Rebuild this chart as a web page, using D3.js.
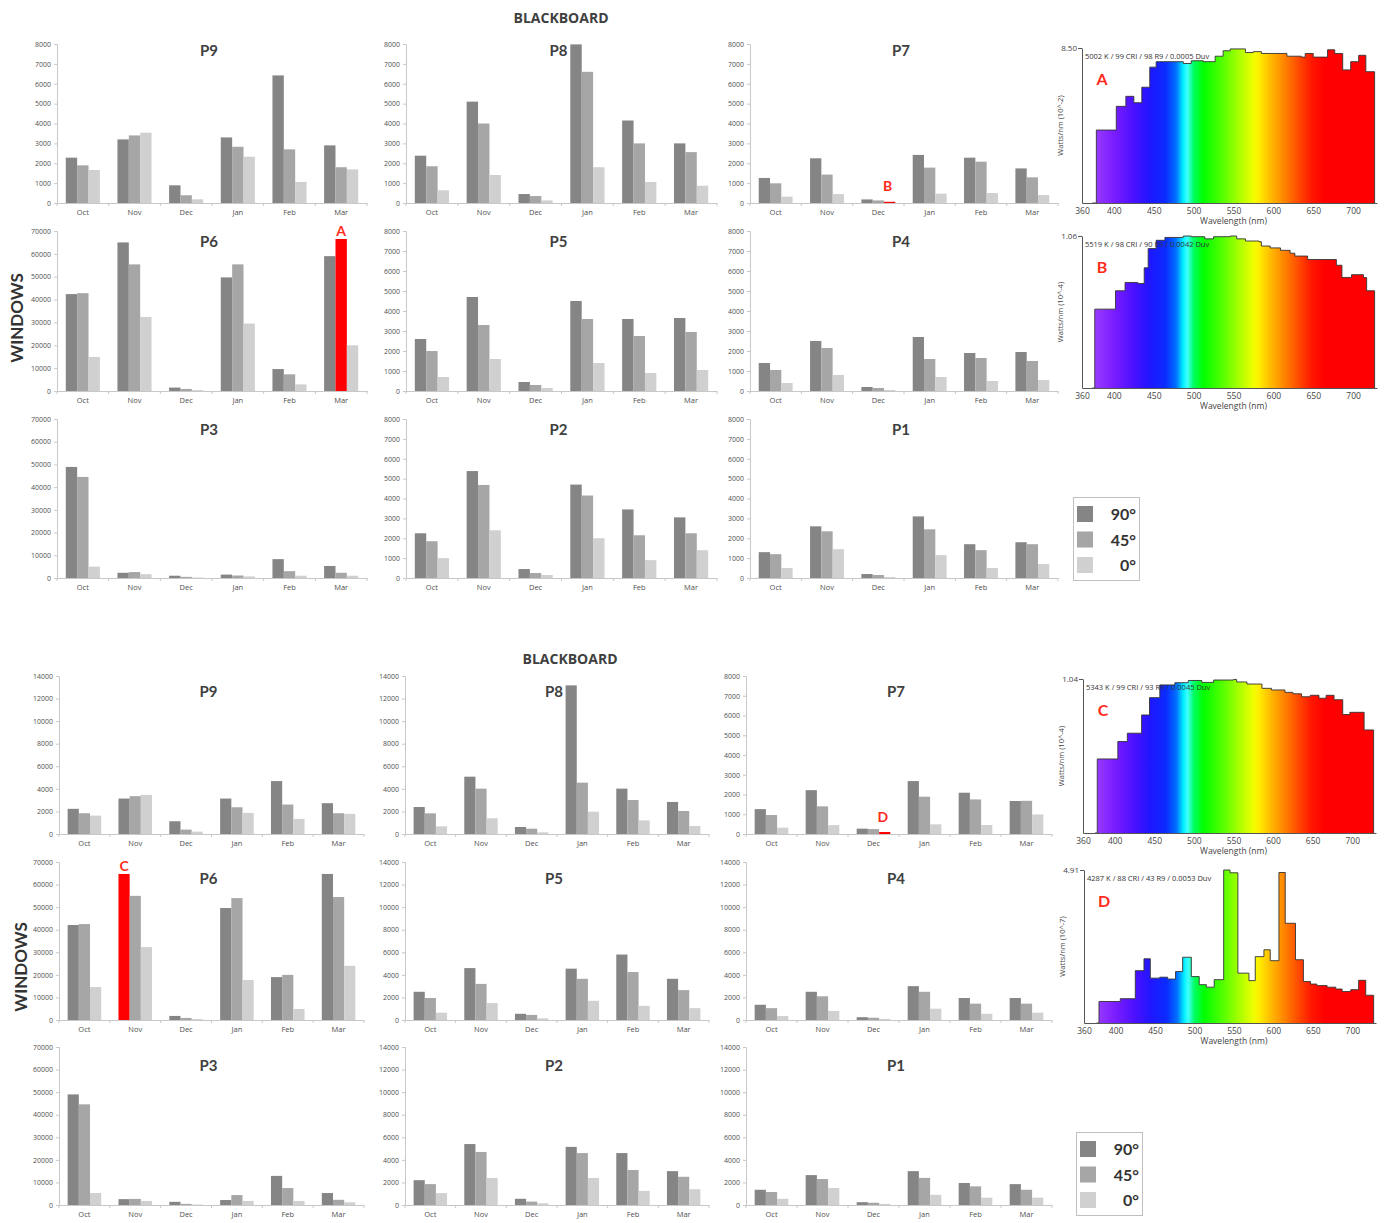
<!DOCTYPE html>
<html>
<head>
<meta charset="utf-8">
<script src="https://cdn.jsdelivr.net/npm/d3@7"></script>
<style>
  body { margin: 0; background: #fff; }
  svg text { font-family: "Open Sans", "Liberation Sans", sans-serif; }
</style>
</head>
<body>
<div id="root"></div>
<script>
const months = ["Oct", "Nov", "Dec", "Jan", "Feb", "Mar"]
const angles = ["90°", "45°", "0°"]

// values per month: [90°, 45°, 0°]
const topP9 = [[2280,1895,1660],[3200,3400,3540],[890,390,185],[3300,2830,2330],[6420,2700,1060],[2900,1800,1690]]
const topP8 = [[2380,1850,640],[5100,4000,1410],[450,350,130],[7980,6600,1800],[4150,3000,1060],[3000,2560,870]]
const topP7 = [[1260,990,320],[2250,1430,450],[180,130,60],[2420,1780,470],[2280,2080,500],[1740,1290,400]]
const topP6 = [[42400,42800,14900],[65000,55400,32400],[1500,900,400],[49700,55400,29500],[9600,7300,2900],[59000,66500,20000]]
const topP5 = [[2600,2000,700],[4700,3300,1600],[450,300,150],[4500,3600,1400],[3600,2750,900],[3650,2950,1050]]
const topP4 = [[1400,1050,400],[2500,2150,800],[200,150,50],[2700,1600,700],[1900,1650,500],[1950,1500,550]]
const topP3 = [[48900,44500,5000],[2300,2600,1700],[1000,500,200],[1500,1100,700],[8300,3000,1000],[5300,2300,1000]]
const topP2 = [[2250,1850,1000],[5380,4680,2400],[450,250,150],[4700,4150,2000],[3450,2150,900],[3050,2250,1400]]
const topP1 = [[1300,1200,500],[2600,2350,1450],[200,150,50],[3100,2450,1150],[1700,1400,500],[1800,1700,700]]

const botP9 = [[2230,1840,1630],[3140,3350,3470],[1130,390,210],[3140,2370,1870],[4690,2610,1340],[2730,1840,1780]]
const botP8 = [[2390,1830,680],[5080,4020,1390],[620,470,150],[13170,4550,1980],[4020,3010,1210],[2840,2040,710]]
const botP7 = [[1260,960,320],[2220,1400,450],[270,250,100],[2680,1890,490],[2090,1750,455],[1670,1680,990]]
const botP6 = [[42100,42500,14600],[64700,55000,32300],[1800,900,400],[49600,54000,17700],[19000,20000,4900],[64700,54500,24000]]
const botP5 = [[2500,1950,650],[4600,3200,1500],[550,450,150],[4550,3650,1700],[5800,4250,1250],[3650,2650,1050]]
const botP4 = [[1350,1050,350],[2500,2100,800],[250,200,100],[3000,2500,1000],[1950,1450,550],[1950,1450,650]]
const botP3 = [[49000,44600,5300],[2600,2700,1800],[1400,500,200],[2200,4400,1800],[12900,7500,1800],[5300,2300,1200]]
const botP2 = [[2200,1850,1050],[5400,4700,2400],[550,300,150],[5150,4600,2400],[4600,3100,1250],[3000,2500,1400]]
const botP1 = [[1350,1150,550],[2650,2300,1500],[250,200,100],[3000,2400,900],[1950,1650,650],[1850,1350,650]]

// highlighted bars (red) with their letter
const topMarks = [{panel: "P6", month: "Mar", angle: 1, letter: "A"}, {panel: "P7", month: "Dec", angle: 2, letter: "B"}]
const botMarks = [{panel: "P6", month: "Nov", angle: 0, letter: "C"}, {panel: "P7", month: "Dec", angle: 2, letter: "D"}]

// spectra: wavelength (nm) where each step starts, and level
const specAWl = [373,378,403,415,425,435,445,453,487,497,512,527,537,546,565,575,585,617,635,640,650,668,677,687,697,707,716,727]
const specAVal = [0,4.0,5.3,5.85,5.5,6.35,7.45,7.75,7.65,7.8,7.75,8.05,8.35,8.45,8.25,8.3,8.2,8.05,8.0,8.2,8.0,8.4,8.2,7.3,7.75,8.1,7.2,0]
const specBWl = [373,376,402,414,430,438,443,453,464,487,497,514,525,546,554,565,582,585,596,609,621,627,643,679,686,698,713,717,727]
const specBVal = [0,0.55,0.678,0.736,0.729,0.838,0.972,1.03,1.05,1.06,1.055,1.04,1.055,1.06,1.04,1.025,1.02,0.99,0.977,0.96,0.94,0.92,0.896,0.856,0.771,0.79,0.77,0.678,0]
const specCWl = [375,378,404,416,434,444,457,476,493,510,525,550,554,567,586,598,615,625,636,647,658,667,677,688,697,715,727]
const specCVal = [0,0.50,0.618,0.674,0.797,0.914,1.0,1.015,1.03,1.017,1.033,1.037,1.02,1.006,0.977,0.966,0.95,0.94,0.92,0.93,0.91,0.93,0.90,0.80,0.815,0.696,0]
const specDWl = [376,379,406,425,436,444,456,466,476,485,496,506,515,525,537,545,555,569,577,588,596,607,615,628,638,647,655,668,679,687,698,708,717,727]
const specDVal = [0,0.69,0.78,1.68,2.06,1.44,1.47,1.41,1.65,2.11,1.49,1.23,1.15,1.39,4.91,4.82,1.60,1.36,2.13,2.35,2.0,4.83,3.2,2.03,1.33,1.25,1.2,1.15,1.09,1.01,1.07,1.37,0.89,0]
const specInfo = ["5002 K / 99 CRI / 98 R9 / 0.0005 Duv", "5519 K / 98 CRI / 90 R9 / 0.0042 Duv",
                  "5343 K / 99 CRI / 93 R9 / 0.0045 Duv", "4287 K / 88 CRI / 43 R9 / 0.0053 Duv"]
const specMax = [8.50, 1.06, 1.04, 4.91]
const specExp = ["(10^-2)", "(10^-4)", "(10^-4)", "(10^-7)"]
const wlTicks = [360, 400, 450, 500, 550, 600, 650, 700]

const angleColors = ["#858585", "#a6a6a6", "#d0d0d0"]
const red = "#ff0000"
const letterRed = "#ff2b1c"
const spectrumStops = [
  [375, "#9b3dff"], [400, "#7a1dff"], [425, "#4a10ff"], [445, "#1f16ff"], [465, "#0a2cff"],
  [478, "#0070ff"], [487, "#00f0ff"], [492, "#40ffff"], [500, "#00ff60"], [512, "#00ff00"],
  [535, "#50ff00"], [555, "#a0ff00"], [575, "#f0ff00"], [582, "#ffee00"], [595, "#ffc000"],
  [610, "#ff9000"], [630, "#ff5000"], [648, "#ff1800"], [665, "#ff0000"], [730, "#ff0000"]
]

const svg = d3.select("#root")
  .append("svg")
    .attr("width", 1384)
    .attr("height", 1223)

// Layout of the two blocks
const blocks = [
  {
    title: {x: 561, y: 23},
    cols: [[57, 367], [406, 717], [750, 1058]],
    rows: [[44, 203], [231, 391], [419, 578]],
    titleDy: [12, 16, 16],
    panels: [[["P9", topP9, 8000, 1000], ["P8", topP8, 8000, 1000], ["P7", topP7, 8000, 1000]],
             [["P6", topP6, 70000, 10000], ["P5", topP5, 8000, 1000], ["P4", topP4, 8000, 1000]],
             [["P3", topP3, 70000, 10000], ["P2", topP2, 8000, 1000], ["P1", topP1, 8000, 1000]]],
    marks: topMarks,
    windows: {x: 23, y: 318},
    spectra: [
      {wl: specAWl, val: specAVal, i: 0, letter: "A", x0: 1082, x1: 1377, yTop: 48, yBot: 203},
      {wl: specBWl, val: specBVal, i: 1, letter: "B", x0: 1082, x1: 1377, yTop: 236, yBot: 388},
    ],
    legend: {x: 1073, y: 497}
  },
  {
    title: {x: 570, y: 664},
    cols: [[59, 364], [405, 709], [746, 1052]],
    rows: [[676, 834], [862, 1020], [1047, 1205]],
    titleDy: [21, 22, 24],
    panels: [[["P9", botP9, 14000, 2000], ["P8", botP8, 14000, 2000], ["P7", botP7, 8000, 1000]],
             [["P6", botP6, 70000, 10000], ["P5", botP5, 14000, 2000], ["P4", botP4, 14000, 2000]],
             [["P3", botP3, 70000, 10000], ["P2", botP2, 14000, 2000], ["P1", botP1, 14000, 2000]]],
    marks: botMarks,
    windows: {x: 27, y: 967},
    spectra: [
      {wl: specCWl, val: specCVal, i: 2, letter: "C", x0: 1083, x1: 1376, yTop: 679, yBot: 833},
      {wl: specDWl, val: specDVal, i: 3, letter: "D", x0: 1084, x1: 1376, yTop: 870, yBot: 1023},
    ],
    legend: {x: 1076, y: 1132}
  }
]

blocks.forEach(block => {
  svg.append("text")
    .attr("x", block.title.x)
    .attr("y", block.title.y)
    .attr("text-anchor", "middle")
    .attr("font-size", 14)
    .attr("font-weight", "bold")
    .attr("fill", "#404040")
    .text("BLACKBOARD")

  block.panels.forEach((row, r) => {
    row.forEach((p, c) => {
      const [name, data, max, step] = p
      const cell = {x0: block.cols[c][0], x1: block.cols[c][1], yTop: block.rows[r][0], yBot: block.rows[r][1]}
      const mark = block.marks.find(m => m.panel === name)
      drawBars(cell, name, data, max, step, mark, block.titleDy[r])
    })
  })

  svg.append("text")
    .attr("transform", `translate(${block.windows.x},${block.windows.y}) rotate(-90)`)
    .attr("text-anchor", "middle")
    .attr("font-size", 17)
    .attr("font-weight", "bold")
    .attr("fill", "#333")
    .style("font-family", "Lato, 'Open Sans', sans-serif")
    .text("WINDOWS")

  block.spectra.forEach(s => drawSpectrum(s))
  drawLegend(block.legend)
})

function drawBars(cell, name, data, max, step, mark, titleDy) {
  const g = svg.append("g").classed("panel", true)

  const x = d3.scaleBand()
    .domain(months)
    .range([cell.x0, cell.x1])
    .paddingInner(0.34)
    .paddingOuter(0.17)

  const xi = d3.scaleBand()
    .domain([0, 1, 2])
    .range([0, x.bandwidth()])

  const y = d3.scaleLinear()
    .domain([0, max])
    .range([cell.yBot, cell.yTop])

  // Axes
  const yAxis = g.append("g")
    .attr("transform", `translate(${cell.x0},0)`)
    .call(d3.axisLeft(y).tickValues(d3.range(0, max + 1, step)).tickSize(3).tickPadding(3).tickFormat(d3.format("d")))
  yAxis.selectAll("line, path").attr("stroke", "#c8c8c8")
  yAxis.selectAll("text").attr("font-size", 7).attr("fill", "#505050")

  const xAxis = g.append("g")
    .attr("transform", `translate(0,${cell.yBot})`)
    .call(d3.axisBottom(x).tickSize(0).tickPadding(7))
  xAxis.select("path").attr("stroke", "#c8c8c8")
  xAxis.selectAll("text").attr("font-size", 7.5).attr("fill", "#505050")

  g.selectAll("line.cat-tick")
    .data(d3.range(months.length + 1))
    .enter()
    .append("line")
    .classed("cat-tick", true)
    .attr("x1", i => cell.x0 + i * x.step())
    .attr("x2", i => cell.x0 + i * x.step())
    .attr("y1", cell.yBot)
    .attr("y2", cell.yBot + 3)
    .attr("stroke", "#c8c8c8")

  // Bars
  const groups = g.selectAll("g.month")
    .data(data)
    .enter()
    .append("g")
    .classed("month", true)
    .attr("transform", (d, i) => `translate(${x(months[i])},0)`)

  groups.each((vals, mi, nodes) => {
    d3.select(nodes[mi]).selectAll("rect")
      .data(vals)
      .enter()
      .append("rect")
      .attr("x", (d, k) => xi(k))
      .attr("width", xi.bandwidth())
      .attr("y", d => y(d))
      .attr("height", d => y(0) - y(d))
      .attr("fill", (d, k) => (mark && mark.month === months[mi] && mark.angle === k) ? red : angleColors[k])
  })

  // Title
  g.append("text")
    .attr("x", (cell.x0 + cell.x1) / 2 - 3)
    .attr("y", cell.yTop + titleDy)
    .attr("text-anchor", "middle")
    .attr("font-size", 15)
    .attr("font-weight", "bold")
    .attr("fill", "#404040")
    .style("font-family", "Lato, 'Open Sans', sans-serif")
    .text(name)

  if (mark) {
    const val = data[months.indexOf(mark.month)][mark.angle]
    const lx = x(mark.month) + xi(mark.angle) + xi.bandwidth() / 2
    g.append("text")
      .attr("x", lx + (mark.angle === 2 ? -2 : 0))
      .attr("y", Math.min(y(val) - 3, cell.yBot - 12))
      .attr("text-anchor", "middle")
      .attr("font-size", 14)
      .attr("font-weight", "bold")
      .attr("fill", letterRed)
      .style("font-family", "Lato, 'Open Sans', sans-serif")
      .text(mark.letter)
  }
}

function drawSpectrum(s) {
  const g = svg.append("g").classed("spectrum", true)
  const max = specMax[s.i]

  const xs = d3.scaleLinear().domain([360, 730]).range([s.x0, s.x1])
  const ys = d3.scaleLinear().domain([0, max]).range([s.yBot, s.yTop])

  const gradId = "spec-grad-" + s.letter
  const grad = svg.append("defs")
    .append("linearGradient")
    .attr("id", gradId)
    .attr("gradientUnits", "userSpaceOnUse")
    .attr("x1", xs(360)).attr("x2", xs(730))
    .attr("y1", 0).attr("y2", 0)
  grad.selectAll("stop")
    .data(spectrumStops)
    .enter()
    .append("stop")
    .attr("offset", d => (d[0] - 360) / 370)
    .attr("stop-color", d => d[1])

  const pts = s.wl.map((w, k) => [w, s.val[k]])

  g.append("path")
    .attr("d", d3.area().x(d => xs(d[0])).y0(ys(0)).y1(d => ys(d[1])).curve(d3.curveStepAfter)(pts))
    .attr("fill", `url(#${gradId})`)

  g.append("path")
    .attr("d", d3.line().x(d => xs(d[0])).y(d => ys(d[1])).curve(d3.curveStepAfter)(pts))
    .attr("fill", "none")
    .attr("stroke", "#333")
    .attr("stroke-width", 0.9)

  const xAxis = g.append("g")
    .attr("transform", `translate(0,${s.yBot})`)
    .call(d3.axisBottom(xs).tickValues(wlTicks).tickSize(0).tickPadding(5).tickSizeOuter(0))
  xAxis.select("path").attr("stroke", "#555")
  xAxis.selectAll("text").attr("font-size", 8.5).attr("fill", "#444")

  const yAxis = g.append("g")
    .attr("transform", `translate(${s.x0},0)`)
    .call(d3.axisLeft(ys).tickValues([max]).tickSize(4).tickPadding(1).tickSizeOuter(0).tickFormat(d3.format(".2f")))
  yAxis.selectAll("line, path").attr("stroke", "#555")
  yAxis.selectAll("text").attr("font-size", 8).attr("fill", "#444")

  g.append("text")
    .attr("x", (xs(360) + xs(730)) / 2 + 4)
    .attr("y", s.yBot + 21)
    .attr("text-anchor", "middle")
    .attr("font-size", 8.5)
    .attr("fill", "#444")
    .text("Wavelength (nm)")

  g.append("text")
    .attr("transform", `translate(${s.x0 - 19},${(s.yTop + s.yBot) / 2}) rotate(-90)`)
    .attr("text-anchor", "middle")
    .attr("font-size", 7.5)
    .attr("fill", "#444")
    .text("Watts/nm " + specExp[s.i])

  g.append("text")
    .attr("x", s.x0 + 3)
    .attr("y", s.yTop + 11)
    .attr("font-size", 7.5)
    .attr("fill", "#333")
    .text(specInfo[s.i])

  g.append("text")
    .attr("x", s.x0 + 20)
    .attr("y", s.yTop + 37)
    .attr("text-anchor", "middle")
    .attr("font-size", 16)
    .attr("font-weight", "bold")
    .attr("fill", letterRed)
    .style("font-family", "Lato, 'Open Sans', sans-serif")
    .text(s.letter)
}

function drawLegend(pos) {
  const g = svg.append("g").attr("transform", `translate(${pos.x},${pos.y})`)
  g.append("rect")
    .attr("x", 0.5).attr("y", 0.5)
    .attr("width", 66).attr("height", 83)
    .attr("fill", "#fff")
    .attr("stroke", "#bfbfbf")

  const items = g.selectAll("g.item")
    .data(angles)
    .enter()
    .append("g")
    .classed("item", true)
    .attr("transform", (d, i) => `translate(0,${9 + i * 25.5})`)

  items.append("rect")
    .attr("x", 4).attr("y", 0)
    .attr("width", 16).attr("height", 16)
    .attr("fill", (d, i) => angleColors[i])

  items.append("text")
    .attr("x", 63)
    .attr("y", 14)
    .attr("text-anchor", "end")
    .attr("font-size", 16)
    .attr("font-weight", "bold")
    .attr("fill", "#333")
    .style("font-family", "Lato, 'Open Sans', sans-serif")
    .text(d => d)
}
</script>
</body>
</html>
